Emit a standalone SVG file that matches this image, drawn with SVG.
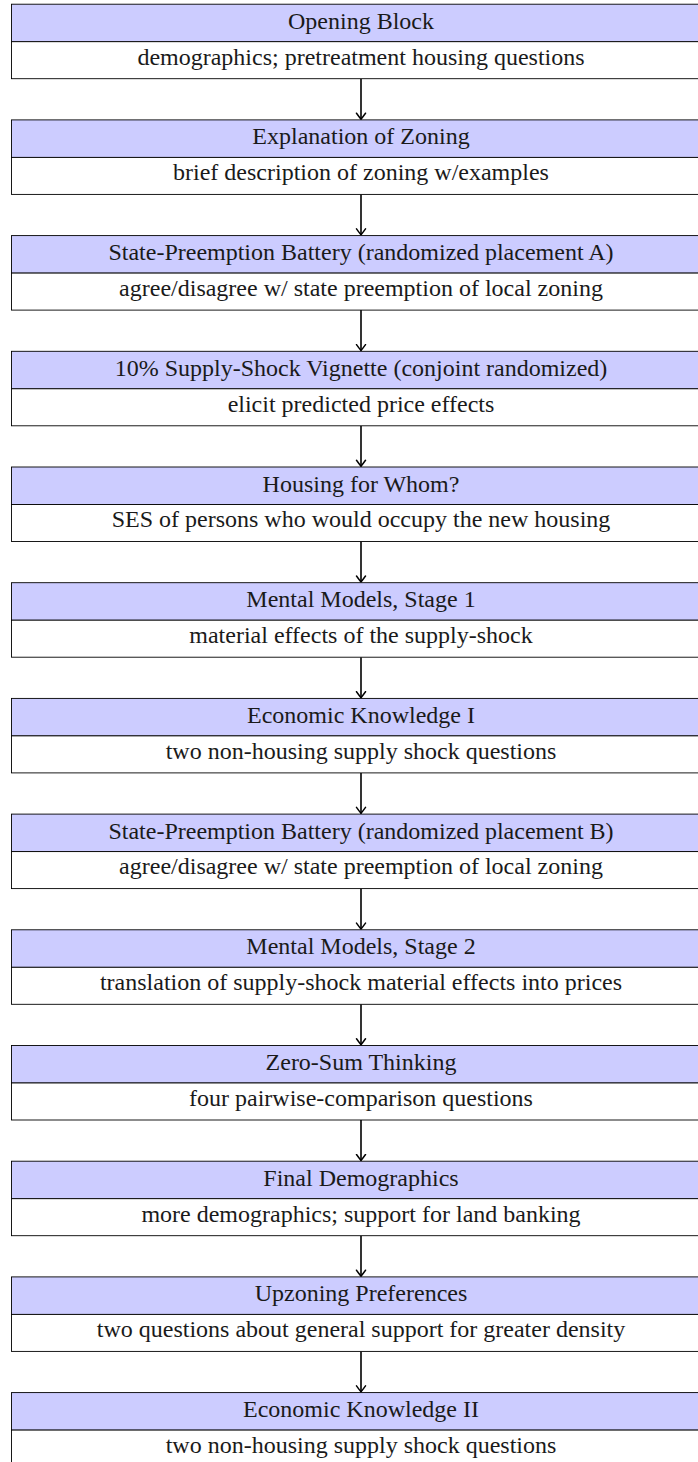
<svg xmlns="http://www.w3.org/2000/svg" width="698" height="1462" viewBox="0 0 698 1462">
<defs>
<style>
.hd{fill:#ccccff;stroke:#000;stroke-width:0.9}
.bd{fill:#fff;stroke:#000;stroke-width:0.9}
.t{font-family:"Liberation Serif","Times New Roman",serif;font-size:24px;fill:#1a1a1a;text-anchor:middle}
.ar{stroke:#000;stroke-width:1.6;fill:none}
</style>
<marker id="arr" viewBox="-7 -6 8 12" refX="0" refY="0" markerWidth="8" markerHeight="12" markerUnits="userSpaceOnUse" orient="auto">
<path d="M-6,-4.5 Q-1.5,-1.2 0,0 Q-1.5,1.2 -6,4.5" fill="none" stroke="#000" stroke-width="1.5" stroke-linecap="round" stroke-linejoin="round"/>
</marker>
</defs>
<rect width="698" height="1462" fill="#fff"/>
<g id="connectors">
<line class="ar" x1="361" y1="78.7" x2="361" y2="119.2" marker-end="url(#arr)"/>
<line class="ar" x1="361" y1="194.4" x2="361" y2="234.9" marker-end="url(#arr)"/>
<line class="ar" x1="361" y1="310.1" x2="361" y2="350.6" marker-end="url(#arr)"/>
<line class="ar" x1="361" y1="425.8" x2="361" y2="466.3" marker-end="url(#arr)"/>
<line class="ar" x1="361" y1="541.5" x2="361" y2="582.0" marker-end="url(#arr)"/>
<line class="ar" x1="361" y1="657.2" x2="361" y2="697.7" marker-end="url(#arr)"/>
<line class="ar" x1="361" y1="772.9" x2="361" y2="813.4" marker-end="url(#arr)"/>
<line class="ar" x1="361" y1="888.6" x2="361" y2="929.1" marker-end="url(#arr)"/>
<line class="ar" x1="361" y1="1004.3" x2="361" y2="1044.8" marker-end="url(#arr)"/>
<line class="ar" x1="361" y1="1120.0" x2="361" y2="1160.5" marker-end="url(#arr)"/>
<line class="ar" x1="361" y1="1235.7" x2="361" y2="1276.2" marker-end="url(#arr)"/>
<line class="ar" x1="361" y1="1351.4" x2="361" y2="1391.9" marker-end="url(#arr)"/>
</g>
<g id="n1" transform="translate(0,4.2)">
<rect class="hd" x="11.5" y="0" width="699" height="37.5"/><rect class="bd" x="11.5" y="37.5" width="699" height="37"/>
<text class="t" x="361" y="24.6">Opening Block</text><text class="t" x="361" y="60.4">demographics; pretreatment housing questions</text>
</g>
<g id="n2" transform="translate(0,119.9)">
<rect class="hd" x="11.5" y="0" width="699" height="37.5"/><rect class="bd" x="11.5" y="37.5" width="699" height="37"/>
<text class="t" x="361" y="24.6">Explanation of Zoning</text><text class="t" x="361" y="60.4">brief description of zoning w/examples</text>
</g>
<g id="n3" transform="translate(0,235.6)">
<rect class="hd" x="11.5" y="0" width="699" height="37.5"/><rect class="bd" x="11.5" y="37.5" width="699" height="37"/>
<text class="t" x="361" y="24.6">State-Preemption Battery (randomized placement A)</text><text class="t" x="361" y="60.4">agree/disagree w/ state preemption of local zoning</text>
</g>
<g id="n4" transform="translate(0,351.3)">
<rect class="hd" x="11.5" y="0" width="699" height="37.5"/><rect class="bd" x="11.5" y="37.5" width="699" height="37"/>
<text class="t" x="361" y="24.6">10% Supply-Shock Vignette (conjoint randomized)</text><text class="t" x="361" y="60.4">elicit predicted price effects</text>
</g>
<g id="n5" transform="translate(0,467.0)">
<rect class="hd" x="11.5" y="0" width="699" height="37.5"/><rect class="bd" x="11.5" y="37.5" width="699" height="37"/>
<text class="t" x="361" y="24.6">Housing for Whom?</text><text class="t" x="361" y="60.4">SES of persons who would occupy the new housing</text>
</g>
<g id="n6" transform="translate(0,582.7)">
<rect class="hd" x="11.5" y="0" width="699" height="37.5"/><rect class="bd" x="11.5" y="37.5" width="699" height="37"/>
<text class="t" x="361" y="24.6">Mental Models, Stage 1</text><text class="t" x="361" y="60.4">material effects of the supply-shock</text>
</g>
<g id="n7" transform="translate(0,698.4)">
<rect class="hd" x="11.5" y="0" width="699" height="37.5"/><rect class="bd" x="11.5" y="37.5" width="699" height="37"/>
<text class="t" x="361" y="24.6">Economic Knowledge I</text><text class="t" x="361" y="60.4">two non-housing supply shock questions</text>
</g>
<g id="n8" transform="translate(0,814.1)">
<rect class="hd" x="11.5" y="0" width="699" height="37.5"/><rect class="bd" x="11.5" y="37.5" width="699" height="37"/>
<text class="t" x="361" y="24.6">State-Preemption Battery (randomized placement B)</text><text class="t" x="361" y="60.4">agree/disagree w/ state preemption of local zoning</text>
</g>
<g id="n9" transform="translate(0,929.8)">
<rect class="hd" x="11.5" y="0" width="699" height="37.5"/><rect class="bd" x="11.5" y="37.5" width="699" height="37"/>
<text class="t" x="361" y="24.6">Mental Models, Stage 2</text><text class="t" x="361" y="60.4">translation of supply-shock material effects into prices</text>
</g>
<g id="n10" transform="translate(0,1045.5)">
<rect class="hd" x="11.5" y="0" width="699" height="37.5"/><rect class="bd" x="11.5" y="37.5" width="699" height="37"/>
<text class="t" x="361" y="24.6">Zero-Sum Thinking</text><text class="t" x="361" y="60.4">four pairwise-comparison questions</text>
</g>
<g id="n11" transform="translate(0,1161.2)">
<rect class="hd" x="11.5" y="0" width="699" height="37.5"/><rect class="bd" x="11.5" y="37.5" width="699" height="37"/>
<text class="t" x="361" y="24.6">Final Demographics</text><text class="t" x="361" y="60.4">more demographics; support for land banking</text>
</g>
<g id="n12" transform="translate(0,1276.9)">
<rect class="hd" x="11.5" y="0" width="699" height="37.5"/><rect class="bd" x="11.5" y="37.5" width="699" height="37"/>
<text class="t" x="361" y="24.6">Upzoning Preferences</text><text class="t" x="361" y="60.4">two questions about general support for greater density</text>
</g>
<g id="n13" transform="translate(0,1392.6)">
<rect class="hd" x="11.5" y="0" width="699" height="37.5"/><rect class="bd" x="11.5" y="37.5" width="699" height="37"/>
<text class="t" x="361" y="24.6">Economic Knowledge II</text><text class="t" x="361" y="60.4">two non-housing supply shock questions</text>
</g>
</svg>
